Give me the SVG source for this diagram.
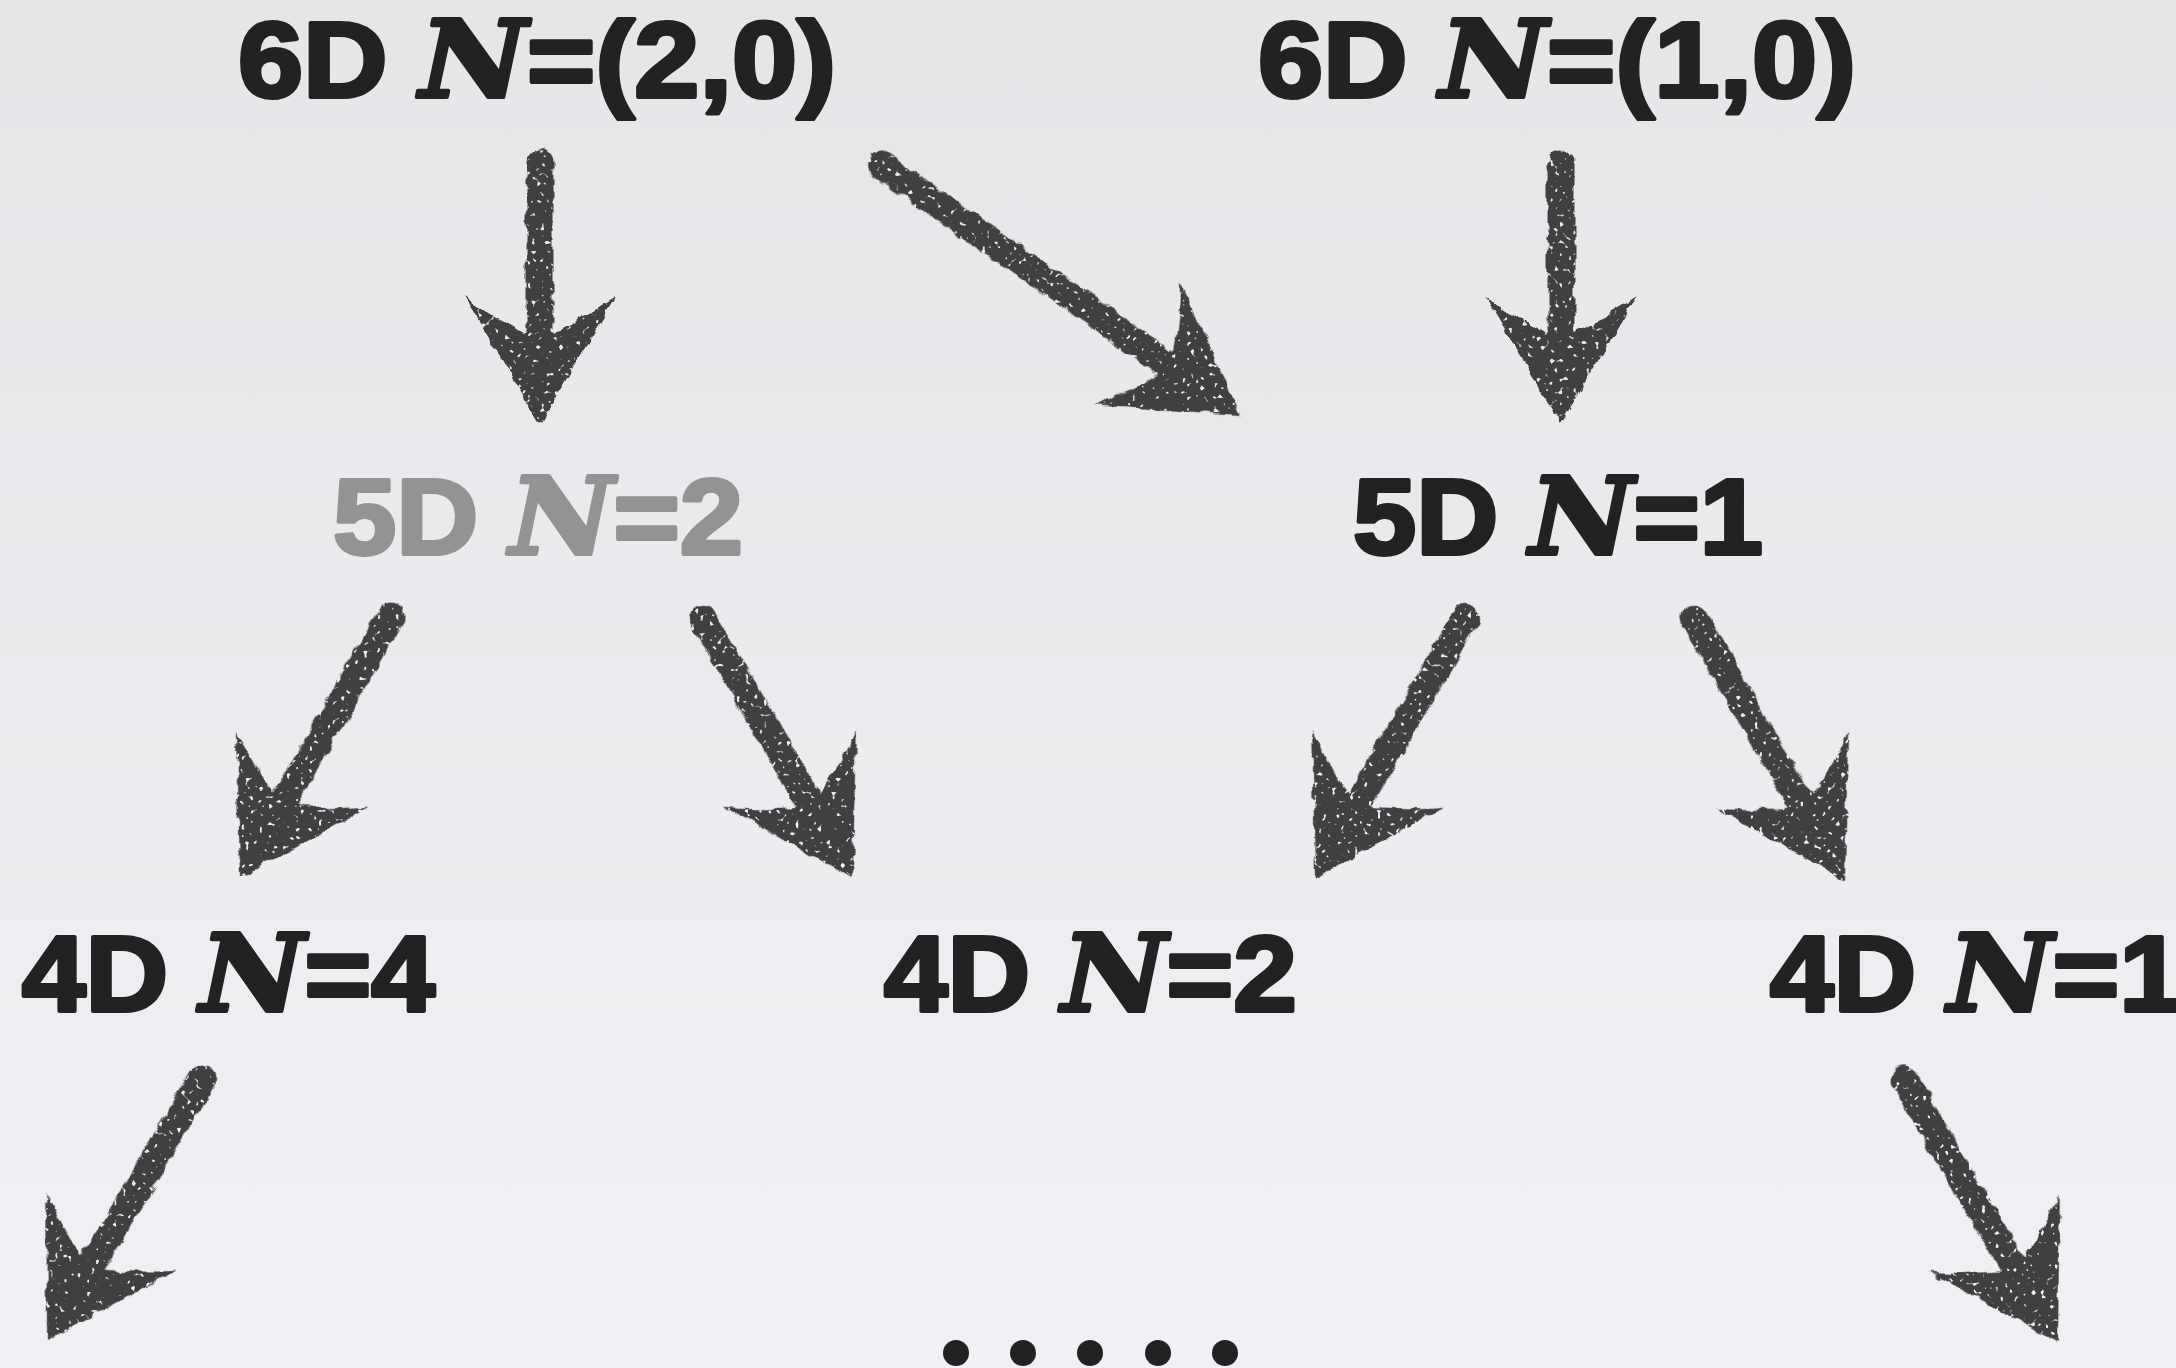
<svg xmlns="http://www.w3.org/2000/svg" xmlns:xlink="http://www.w3.org/1999/xlink" width="2176" height="1368" viewBox="0 0 2176 1368">
  <style>
    .lbl { font-family: "Liberation Sans", Arial, sans-serif; font-weight: bold; font-size: 107px; fill: #222222; stroke: #222222; stroke-width: 4; stroke-linejoin: round; }
    .gray { fill: #939393; stroke: #939393; }
    .n { font-family: "DejaVu Serif", "Liberation Serif", serif; font-style: italic; font-weight: bold; }
    .shaft { stroke: #404040; stroke-width: 27; stroke-linecap: round; fill: none; }
    .head { fill: #404040; }
    .dot { fill: #222222; }
  </style>
  <defs>
    <linearGradient id="bg" x1="0" y1="0" x2="0" y2="1">
      <stop offset="0" stop-color="#e5e6e8"/>
      <stop offset="1" stop-color="#f0f1f4"/>
    </linearGradient>
    <filter id="chalk" filterUnits="userSpaceOnUse" x="0" y="0" width="2176" height="1368">
      <feTurbulence type="fractalNoise" baseFrequency="0.07" numOctaves="2" seed="3" result="n"/>
      <feDisplacementMap in="SourceGraphic" in2="n" scale="9" xChannelSelector="R" yChannelSelector="G" result="d"/>
      <feTurbulence type="fractalNoise" baseFrequency="0.22" numOctaves="1" seed="7" result="n2"/>
      <feColorMatrix in="n2" type="matrix" values="0 0 0 0 0  0 0 0 0 0  0 0 0 0 0  -12 0 0 0 8.6" result="mask"/>
      <feComposite in="d" in2="mask" operator="in"/>
    </filter>
    <path id="ahead" d="M0,0 L-76,-126 Q-50,-108 -14,-90 L14,-90 Q50,-108 76,-126 Z"/>
  </defs>
  <rect x="0" y="0" width="2176" height="1368" fill="url(#bg)"/>

  <g id="connectors" filter="url(#chalk)">
    <g id="a1" transform="translate(540,423)"><line class="shaft" x1="0" y1="-261" x2="0" y2="-60"/><use href="#ahead" class="head"/></g>
    <g id="a2" transform="translate(1240,415) rotate(-55.1)"><line class="shaft" x1="0" y1="-437" x2="0" y2="-60"/><use href="#ahead" class="head"/></g>
    <g id="a3" transform="translate(1561,423)"><line class="shaft" x1="0" y1="-261" x2="0" y2="-60"/><use href="#ahead" class="head"/></g>
    <g id="a4" transform="translate(240,878) rotate(29.9)"><line class="shaft" x1="0" y1="-301" x2="0" y2="-60"/><use href="#ahead" class="head"/></g>
    <g id="a5" transform="translate(853,878) rotate(-30)"><line class="shaft" x1="0" y1="-301" x2="0" y2="-60"/><use href="#ahead" class="head"/></g>
    <g id="a6" transform="translate(1315,878) rotate(30)"><line class="shaft" x1="0" y1="-301" x2="0" y2="-60"/><use href="#ahead" class="head"/></g>
    <g id="a7" transform="translate(1845,880) rotate(-29.9)"><line class="shaft" x1="0" y1="-303" x2="0" y2="-60"/><use href="#ahead" class="head"/></g>
    <g id="a8" transform="translate(47,1340) rotate(30.8)"><line class="shaft" x1="0" y1="-304" x2="0" y2="-60"/><use href="#ahead" class="head"/></g>
    <g id="a9" transform="translate(2058,1342) rotate(-30.4)"><line class="shaft" x1="0" y1="-304" x2="0" y2="-60"/><use href="#ahead" class="head"/></g>
  </g>

  <g id="node-6d-20"><text class="lbl" x="238" y="97" textLength="598" lengthAdjust="spacingAndGlyphs">6D <tspan class="n">N</tspan>=(2,0)</text></g>
  <g id="node-6d-10"><text class="lbl" x="1258" y="97" textLength="598" lengthAdjust="spacingAndGlyphs">6D <tspan class="n">N</tspan>=(1,0)</text></g>
  <g id="node-5d-2"><text class="lbl gray" x="333" y="554" textLength="410" lengthAdjust="spacingAndGlyphs">5D <tspan class="n">N</tspan>=2</text></g>
  <g id="node-5d-1"><text class="lbl" x="1353" y="554" textLength="410" lengthAdjust="spacingAndGlyphs">5D <tspan class="n">N</tspan>=1</text></g>
  <g id="node-4d-4"><text class="lbl" x="22" y="1011" textLength="413" lengthAdjust="spacingAndGlyphs">4D <tspan class="n">N</tspan>=4</text></g>
  <g id="node-4d-2"><text class="lbl" x="884" y="1011" textLength="413" lengthAdjust="spacingAndGlyphs">4D <tspan class="n">N</tspan>=2</text></g>
  <g id="node-4d-1"><text class="lbl" x="1770" y="1011" textLength="413" lengthAdjust="spacingAndGlyphs">4D <tspan class="n">N</tspan>=1</text></g>

  <g id="ellipsis">
    <circle class="dot" cx="956" cy="1353" r="13"/>
    <circle class="dot" cx="1023" cy="1353" r="13"/>
    <circle class="dot" cx="1090" cy="1353" r="13"/>
    <circle class="dot" cx="1158" cy="1353" r="13"/>
    <circle class="dot" cx="1225" cy="1353" r="13"/>
  </g>
</svg>
